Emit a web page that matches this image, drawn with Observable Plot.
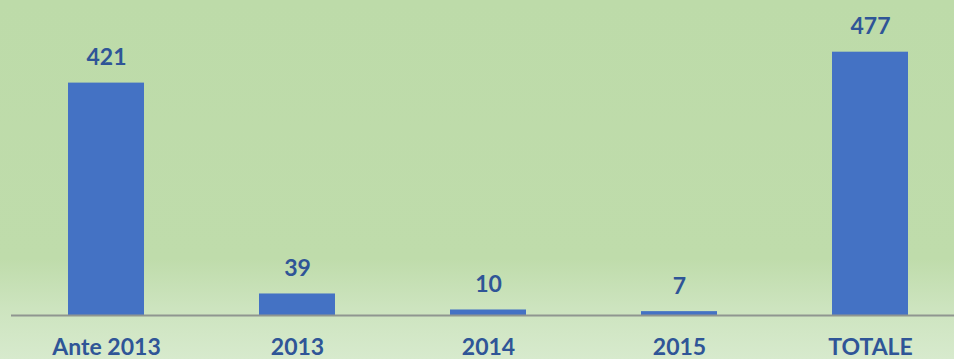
<!DOCTYPE html>
<html>
<head>
<meta charset="utf-8">
<script src="https://cdn.jsdelivr.net/npm/d3@7"></script>
<script src="https://cdn.jsdelivr.net/npm/@observablehq/plot@0.6"></script>
<style>
  html, body { margin: 0; padding: 0; }
  body {
    width: 954px; height: 359px; overflow: hidden;
    background: linear-gradient(to bottom, #bddba9 0%, #bfdcab 72%, #cde4bf 86%, #d7eacd 100%);
    font-family: Lato, "Open Sans", sans-serif;
  }
  svg { display: block; }
</style>
</head>
<body>
<div id="chart"></div>
<script>
const categories = ["Ante 2013", "2013", "2014", "2015", "TOTALE"];
const values = [421, 39, 10, 7, 477];

const data = categories.map((c, i) => ({category: c, value: values[i]}));

const chart = Plot.plot({
  width: 954,
  height: 359,
  marginLeft: 30,
  marginRight: 7,
  marginTop: 39,
  marginBottom: 44,
  style: {background: "transparent", fontFamily: "Lato, 'Open Sans', sans-serif"},
  x: {domain: categories, paddingInner: 0.6, paddingOuter: 0.2, label: null},
  y: {domain: [0, 500], axis: null},
  marks: [
    Plot.barY(data, {x: "category", y: "value", fill: "#4472c4"}),
    Plot.ruleY([0], {stroke: "#8f9690", strokeWidth: 2, insetLeft: -19, insetRight: -7}),
    Plot.text(data, {x: "category", y: "value", text: d => String(d.value), lineAnchor: "bottom", dy: -18,
      fill: "#2f5597", fontSize: 23, fontWeight: "bold"}),
    Plot.axisX({tickSize: 0, tickPadding: 23, fontSize: 23, fontWeight: "bold", fill: "#2f5597", label: null})
  ]
});
document.getElementById("chart").appendChild(chart);
</script>
</body>
</html>
